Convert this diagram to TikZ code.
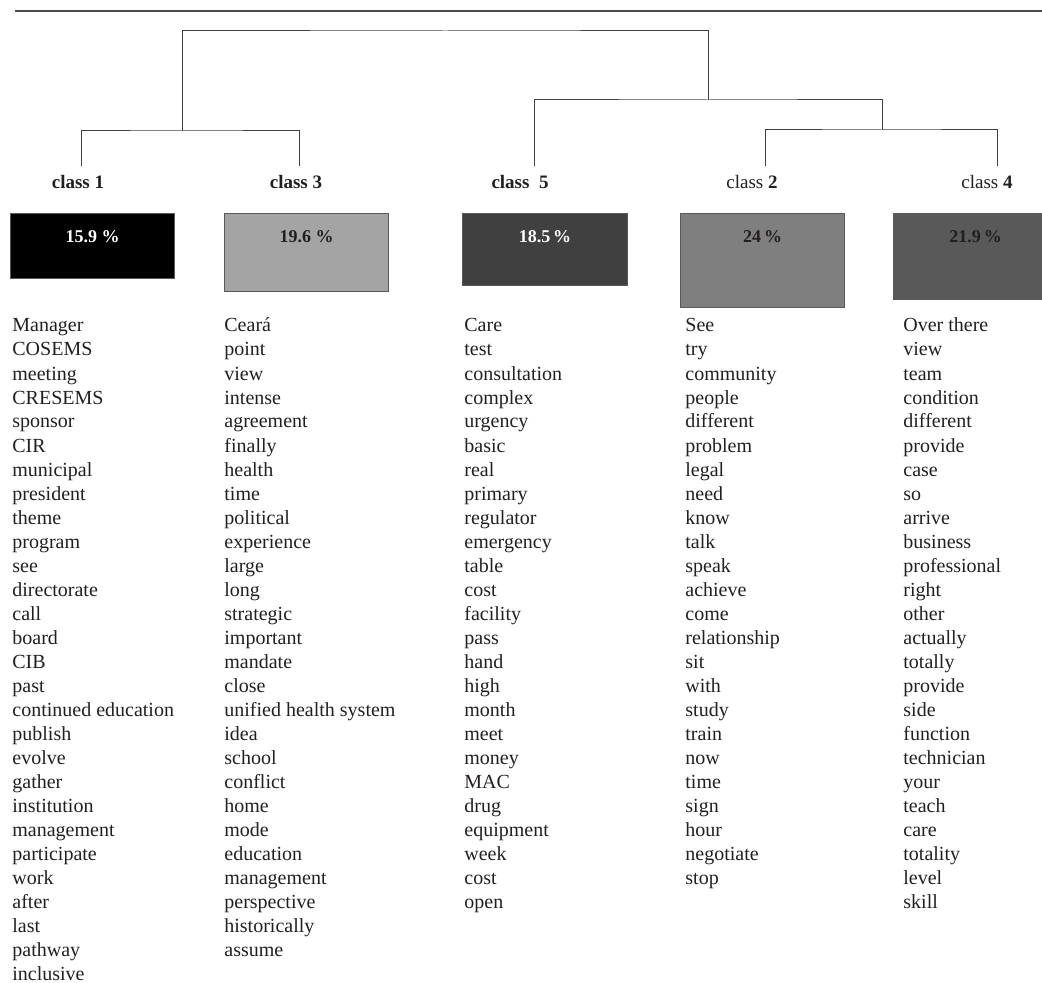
\documentclass[tikz,border=0pt]{standalone}
\usepackage{fontspec}
\setmainfont{Liberation Serif}

\definecolor{ink}{HTML}{231F20}
\definecolor{shadeA}{HTML}{A3A4A3}
\definecolor{shadeB}{HTML}{404040}
\definecolor{shadeC}{HTML}{7F7F7F}
\definecolor{shadeD}{HTML}{595959}

\tikzset{
  tree/.style={draw=black!75,line width=0.5pt},
  classlab/.style={anchor=base,inner sep=0pt,text=ink,font=\fontsize{9.5}{11}\selectfont},
  classbox/.style={draw=black!65,line width=0.5pt,anchor=north west,inner sep=0pt,minimum width=82pt},
  pct/.style={anchor=base,inner sep=0pt,font=\bfseries\fontsize{9}{11}\selectfont},
  word/.style={anchor=base west,inner sep=0pt,text=ink,font=\fontsize{10}{12}\selectfont}
}

\begin{document}
\begin{tikzpicture}[x=0.5pt,y=-0.5pt]

      \clip (0,0) rectangle (1042,983);

      % rule on top
      \draw[black!70,line width=0.6pt] (15,11) -- (1042,11);

      % class labels
      \node[classlab] (lab1) at (78,189) {\bfseries class 1};
      \node[classlab] (lab3) at (296,189) {\bfseries class 3};
      \node[classlab] (lab5) at (520,189) {\bfseries class\ \ 5};
      \node[classlab] (lab2) at (752,189) {class \textbf{2}};
      \node[classlab] (lab4) at (987,189) {class \textbf{4}};

      % tree
      \coordinate (tip1) at (81,166);
      \coordinate (tip3) at (299,166);
      \coordinate (tip5) at (534,166);
      \coordinate (tip2) at (765,166);
      \coordinate (tip4) at (997,166);
      \coordinate (j13) at (182,131);
      \coordinate (j24) at (882,130);
      \coordinate (j524) at (708,100);
      \coordinate (root) at (445,31);

      \begin{scope}[every path/.style={tree}]
        \draw (tip1) |- (j13) -| (tip3);
        \draw (tip2) |- (j24) -| (tip4);
        \draw (tip5) |- (j524) -| (j24);
        \draw (j13) |- (root) -| (j524);
      \end{scope}

      % boxes
      \node[classbox,fill=black,minimum height=32.5pt] (box1) at (10,213) {};
      \node[classbox,fill=shadeA,minimum height=39pt] (box3) at (224,213) {};
      \node[classbox,fill=shadeB,minimum height=36pt,minimum width=82.5pt] (box5) at (462,213) {};
      \node[classbox,fill=shadeC,minimum height=47pt] (box2) at (680,213) {};
      \node[classbox,fill=shadeD,minimum height=43pt] (box4) at (893,213) {};

      \node[pct,text=white] (pct1) at ([yshift=-15pt]box1.north) {15.9 \%};
      \node[pct,text=ink] (pct3) at ([yshift=-15pt]box3.north) {19.6 \%};
      \node[pct,text=white] (pct5) at ([yshift=-15pt]box5.north) {18.5\,\%};
      \node[pct,text=ink] (pct2) at ([yshift=-15pt]box2.north) {24\,\%};
      \node[pct,text=ink] (pct4) at ([yshift=-15pt]box4.north) {21.9\,\%};

      % word lists
      \foreach \w [count=\i] in {Manager,COSEMS,meeting,CRESEMS,sponsor,CIR,
          municipal,president,theme,program,see,directorate,call,board,CIB,past,
          continued education,publish,evolve,gather,institution,management,
          participate,work,after,last,pathway,inclusive}
        \node[word] (w1-\i) at (12,{332+24*(\i-1)}) {\w};

      \foreach \w [count=\i] in {Ceará,point,view,intense,agreement,finally,
          health,time,political,experience,large,long,strategic,important,
          mandate,close,unified health system,idea,school,conflict,home,mode,
          education,management,perspective,historically,assume}
        \node[word] (w3-\i) at (224,{332+24*(\i-1)}) {\w};

      \foreach \w [count=\i] in {Care,test,consultation,complex,urgency,basic,
          real,primary,regulator,emergency,table,cost,facility,pass,hand,high,
          month,meet,money,MAC,drug,equipment,week,cost,open}
        \node[word] (w5-\i) at (464,{332+24*(\i-1)}) {\w};

      \foreach \w [count=\i] in {See,try,community,people,different,problem,
          legal,need,know,talk,speak,achieve,come,relationship,sit,with,study,
          train,now,time,sign,hour,negotiate,stop}
        \node[word] (w2-\i) at (685,{332+24*(\i-1)}) {\w};

      \foreach \w [count=\i] in {Over there,view,team,condition,different,
          provide,case,so,arrive,business,professional,right,other,actually,
          totally,provide,side,function,technician,your,teach,care,totality,
          level,skill}
        \node[word] (w4-\i) at (903,{332+24*(\i-1)}) {\w};

    \end{tikzpicture}
\end{document}
